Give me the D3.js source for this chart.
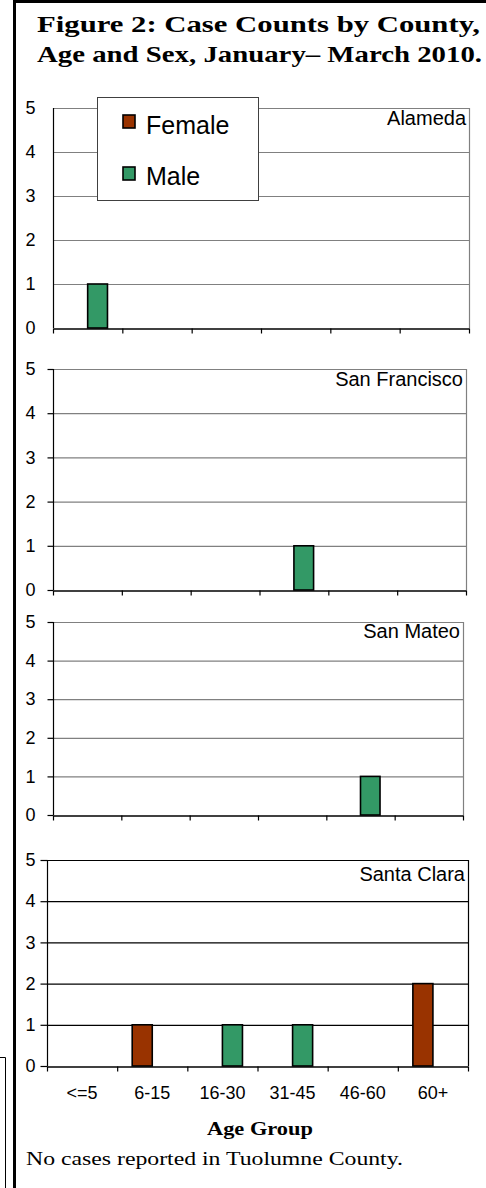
<!DOCTYPE html>
<html lang="en">
<head>
<meta charset="UTF-8">
<title>Figure 2: Case Counts by County, Age and Sex</title>
<script src="https://d3js.org/d3.v7.min.js"></script>
<style>
  body { margin: 0; background: #fff; }
  svg { display: block; }
</style>
</head>
<body>
<div id="chart"></div>
<script>
  const ageGroups = ["<=5", "6-15", "16-30", "31-45", "46-60", "60+"];
  const counties = ["Alameda", "San Francisco", "San Mateo", "Santa Clara"];
  const sexes = ["Female", "Male"];
  const female = [
    [0, 0, 0, 0, 0, 0],
    [0, 0, 0, 0, 0, 0],
    [0, 0, 0, 0, 0, 0],
    [0, 1, 0, 0, 0, 2]
  ];
  const male = [
    [1, 0, 0, 0, 0, 0],
    [0, 0, 0, 1, 0, 0],
    [0, 0, 0, 0, 1, 0],
    [0, 0, 1, 1, 0, 0]
  ];
  const yTicks = [0, 1, 2, 3, 4, 5];

  const W = 486, H = 1188;
  const color = { Female: "#993300", Male: "#339966" };
  const sans = "'Liberation Sans', Arial, sans-serif";
  const serif = "'Liberation Serif', 'Times New Roman', serif";

  // where each panel sits (pixels)
  const panels = [
    { left: 53, right: 469, top: 108, bottom: 328, tick: 0, grid: "#808080", labelDy: 17 },
    { left: 53, right: 466, top: 369, bottom: 590, tick: 6, grid: "#808080", labelDy: 17 },
    { left: 53, right: 463, top: 622, bottom: 815, tick: 6, grid: "#808080", labelDy: 16 },
    { left: 47, right: 468, top: 860, bottom: 1066, tick: 7, grid: "#000", labelDy: 21 }
  ];

  const svg = d3.select("#chart").append("svg")
    .attr("width", W).attr("height", H);

  // outer frame
  svg.append("path").attr("d", `M14.5,${H} V1.5 H${W}`)
    .attr("fill", "none").attr("stroke", "#000").attr("stroke-width", 3);
  svg.append("path").attr("d", `M0,1057.5 H5.5 V${H}`)
    .attr("fill", "none").attr("stroke", "#000").attr("stroke-width", 1);

  // title
  svg.append("text").attr("x", 37).attr("y", 32)
    .attr("textLength", 443).attr("lengthAdjust", "spacingAndGlyphs")
    .style("font-family", serif).style("font-weight", "bold").style("font-size", "23px")
    .text("Figure 2: Case Counts by County,");
  svg.append("text").attr("x", 37).attr("y", 62)
    .attr("textLength", 445).attr("lengthAdjust", "spacingAndGlyphs")
    .style("font-family", serif).style("font-weight", "bold").style("font-size", "23px")
    .text("Age and Sex, January\u2013 March 2010.");

  panels.forEach((p, i) => {
    const g = svg.append("g");
    const x0 = d3.scaleBand().domain(ageGroups).range([p.left, p.right]);
    const x1 = d3.scaleBand().domain(sexes).range([0, x0.bandwidth()])
      .paddingInner(0).paddingOuter(0.75);
    const y = d3.scaleLinear().domain([0, 5]).range([p.bottom, p.top]);
    const edges = d3.scaleLinear().domain([0, ageGroups.length]).range([p.left, p.right]);

    // gridlines + right edge
    g.selectAll(".grid").data(yTicks.filter(v => v > 0)).join("line")
      .attr("x1", p.left).attr("x2", p.right)
      .attr("y1", d => y(d) + 0.5).attr("y2", d => y(d) + 0.5)
      .attr("stroke", p.grid).attr("stroke-width", 1.2);
    g.append("line").attr("x1", p.right + 0.5).attr("x2", p.right + 0.5)
      .attr("y1", p.top).attr("y2", p.bottom)
      .attr("stroke", p.grid).attr("stroke-width", 1.2);

    // bars
    const rows = ageGroups.map((a, j) => ({ age: a, Female: female[i][j], Male: male[i][j] }));
    g.selectAll(".grp").data(rows).join("g")
      .attr("transform", d => `translate(${x0(d.age)},0)`)
      .selectAll("rect")
      .data(d => sexes.map(s => ({ sex: s, value: d[s] })).filter(d => d.value > 0))
      .join("rect")
      .attr("x", d => x1(d.sex))
      .attr("width", x1.bandwidth())
      .attr("y", d => y(d.value))
      .attr("height", d => y(0) - y(d.value))
      .attr("fill", d => color[d.sex])
      .attr("stroke", "#000").attr("stroke-width", 1.6);

    // y axis
    g.append("g").attr("transform", `translate(${p.left + 0.5},0)`)
      .call(d3.axisLeft(y).tickValues(yTicks).tickFormat(d3.format("d"))
        .tickSize(p.tick).tickPadding(p.left - 35 - p.tick))
      .attr("font-size", 18).attr("font-family", sans)
      .call(a => a.select(".domain").attr("d", `M0,${p.top}V${p.bottom}`).attr("stroke-width", 1.2))
      .call(a => a.selectAll(".tick line").attr("stroke-width", 1.2))
      .call(a => a.selectAll("text").attr("fill", "#000"));

    // x axis (ticks at category boundaries)
    g.append("g").attr("transform", `translate(0,${p.bottom + 0.5})`)
      .call(d3.axisBottom(edges).tickValues(d3.range(ageGroups.length + 1))
        .tickFormat("").tickSize(5).tickSizeOuter(0))
      .call(a => a.select(".domain").attr("stroke-width", 1.4))
      .call(a => a.selectAll(".tick line").attr("stroke-width", 1.2));

    // county label
    g.append("text").attr("x", p.right - 3).attr("y", p.top + p.labelDy)
      .attr("text-anchor", "end")
      .style("font-family", sans).style("font-size", "20px")
      .text(counties[i]);

    // category labels under the last panel
    if (i === panels.length - 1) {
      g.selectAll(".cat").data(ageGroups).join("text")
        .attr("x", d => x0(d) + x0.bandwidth() / 2).attr("y", 1099)
        .attr("text-anchor", "middle")
        .style("font-family", sans).style("font-size", "18px")
        .text(d => d);
    }
  });

  // legend
  const lg = svg.append("g");
  lg.append("rect").attr("x", 97.5).attr("y", 97.5).attr("width", 161).attr("height", 103)
    .attr("fill", "#fff").attr("stroke", "#404040").attr("stroke-width", 1);
  sexes.forEach((s, k) => {
    lg.append("rect").attr("x", 123).attr("y", 115 + k * 52).attr("width", 12).attr("height", 13)
      .attr("fill", color[s]).attr("stroke", "#000").attr("stroke-width", 1.6);
    lg.append("text").attr("x", 146).attr("y", 134 + k * 51)
      .style("font-family", sans).style("font-size", "25px")
      .text(s);
  });

  // axis title + note
  svg.append("text").attr("x", 260).attr("y", 1135).attr("text-anchor", "middle")
    .attr("textLength", 106).attr("lengthAdjust", "spacingAndGlyphs")
    .style("font-family", serif).style("font-weight", "bold").style("font-size", "19px")
    .text("Age Group");
  svg.append("text").attr("x", 26).attr("y", 1165)
    .attr("textLength", 377).attr("lengthAdjust", "spacingAndGlyphs")
    .style("font-family", serif).style("font-size", "19px")
    .text("No cases reported in Tuolumne County.");
</script>
</body>
</html>
